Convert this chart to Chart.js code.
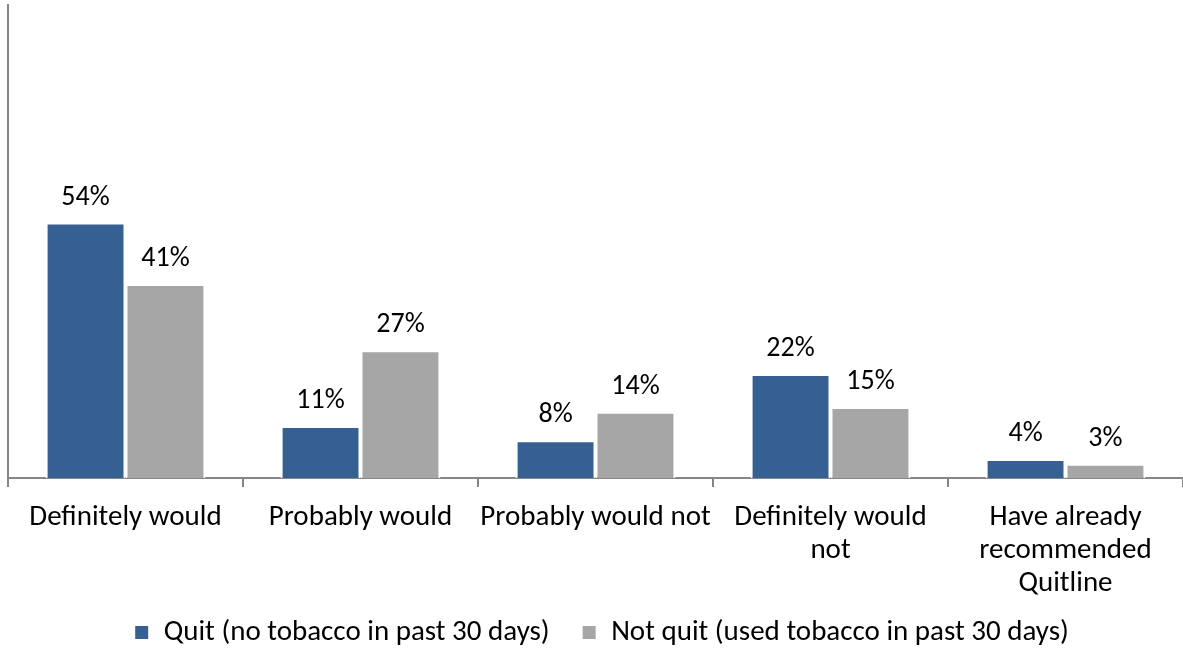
<!DOCTYPE html>
<html>
<head>
<meta charset="utf-8">
<script src="https://cdn.jsdelivr.net/npm/chart.js@4"></script>
<style>
  html, body { margin: 0; padding: 0; background: #fff; }
  #wrap { width: 1183px; height: 648px; }
</style>
</head>
<body>
<div id="wrap"><canvas id="grafico"></canvas></div>
<script>
const categorias = [
    "Definitely would",
    "Probably would",
    "Probably would not",
    ["Definitely would", "not"],
    ["Have already", "recommended", "Quitline"]
];
const quit = [54, 11, 8, 22, 4];
const notQuit = [41, 27, 14, 15, 3];
const series = ["Quit (no tobacco in past 30 days)", "Not quit (used tobacco in past 30 days)"];

const fuente = "Carlito, Calibri, Lato, sans-serif";

// etiquetas encima de cada barra
const etiquetasBarras = {
    id: "etiquetasBarras",
    afterLayout(chart) {
        // las etiquetas de 3 lineas bajan hasta la zona de la leyenda, que no se recorten
        chart.scales.x.bottom = chart.height;
        chart.legend.left += 10;
        chart.legend.right += 10;
    },
    afterDatasetsDraw(chart) {
        const ctx = chart.ctx;
        ctx.save();
        ctx.font = "28px " + fuente;
        ctx.fillStyle = "#000";
        ctx.textAlign = "center";
        ctx.textBaseline = "alphabetic";
        chart.data.datasets.forEach((ds, i) => {
            chart.getDatasetMeta(i).data.forEach((bar, j) => {
                ctx.fillText(ds.data[j] + "%", bar.x, bar.y - 18);
            });
        });
        ctx.restore();
    }
};

new Chart(document.getElementById("grafico").getContext("2d"), {
    type: "bar",
    data: {
        labels: categorias,
        datasets: [
            {
                label: series[0],
                data: quit,
                backgroundColor: "#376092",
                borderColor: "#ffffff",
                borderWidth: 2,
                categoryPercentage: 0.68,
                barPercentage: 1
            },
            {
                label: series[1],
                data: notQuit,
                backgroundColor: "#a6a6a6",
                borderColor: "#ffffff",
                borderWidth: 2,
                categoryPercentage: 0.68,
                barPercentage: 1
            }
        ]
    },
    options: {
        responsive: true,
        maintainAspectRatio: false,
        animation: false,
        layout: { padding: { left: 0, top: 5, right: 0, bottom: -9 } },
        scales: {
            x: {
                grid: { display: true, drawOnChartArea: false, tickLength: 9, color: "#868686", lineWidth: 2 },
                border: { display: true, color: "#868686", width: 2 },
                ticks: { color: "#000", font: { size: 29, family: fuente, lineHeight: 1.14 }, padding: 14, maxRotation: 0, autoSkip: false },
                afterFit: function(scale) {
                    scale.height = 108;
                }
            },
            y: {
                min: 0,
                max: 100,
                grid: { display: false },
                border: { display: true, color: "#868686", width: 2 },
                ticks: { display: false }
            }
        },
        plugins: {
            legend: {
                position: "bottom",
                labels: {
                    color: "#000",
                    font: { size: 29, family: fuente },
                    boxWidth: 15,
                    boxHeight: 15,
                    padding: 32
                }
            },
            tooltip: { enabled: false }
        }
    },
    plugins: [etiquetasBarras]
});
</script>
</body>
</html>
